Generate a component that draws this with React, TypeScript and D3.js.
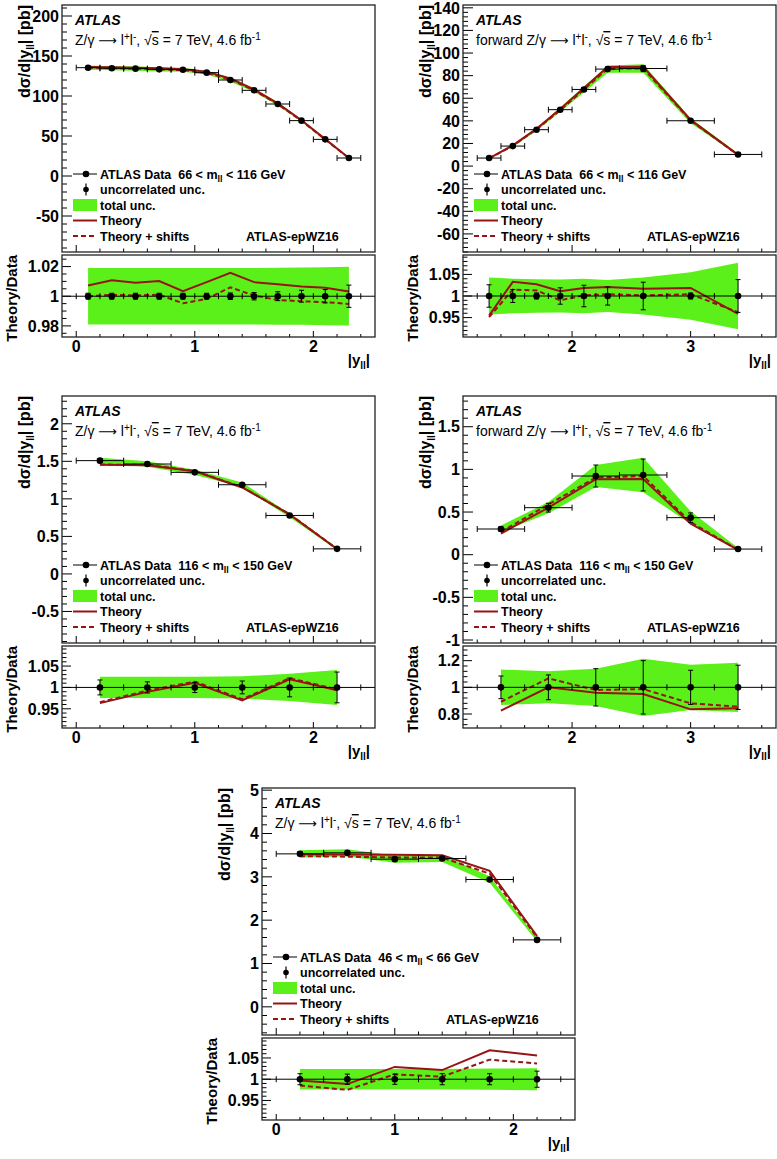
import React from "react";
import * as d3 from "d3";

// ---- data ----

// Z/γ* 66 < mll < 116 GeV, central
const zPeakCenEdges = [0, 0.2, 0.4, 0.6, 0.8, 1.0, 1.2, 1.4, 1.6, 1.8, 2.0, 2.2, 2.4];
const zPeakCenData = [135.4, 134.6, 134.2, 133.3, 132.9, 129.2, 120.0, 107.1, 90.0, 69.2, 45.8, 22.5];
const zPeakCenUncor = [0.002, 0.002, 0.002, 0.002, 0.002, 0.002, 0.0022, 0.0025, 0.003, 0.004, 0.0045, 0.0075];
const zPeakCenTotal = [0.019, 0.019, 0.019, 0.019, 0.019, 0.019, 0.019, 0.0191, 0.0192, 0.0193, 0.0195, 0.0198];
const zPeakCenTheory = [1.0073, 1.0107, 1.0091, 1.0102, 1.0034, 1.0095, 1.0157, 1.0095, 1.008, 1.0066, 1.0057, 1.0032];
const zPeakCenShifts = [1.0, 1.001, 1.0005, 1.001, 0.9952, 0.9982, 1.006, 1.0005, 0.9975, 0.9966, 0.996, 0.9948];

// Z/γ* 66 < mll < 116 GeV, forward
const zPeakFwdEdges = [1.2, 1.4, 1.6, 1.8, 2.0, 2.2, 2.4, 2.8, 3.2, 3.6];
const zPeakFwdData = [7.1, 17.7, 32.2, 49.9, 67.8, 85.8, 86.3, 40.1, 10.3];
const zPeakFwdUncor = [0.026, 0.015, 0.007, 0.019, 0.025, 0.021, 0.032, 0.007, 0.038];
const zPeakFwdTotal = [0.043, 0.04, 0.039, 0.038, 0.04, 0.037, 0.043, 0.055, 0.077];
const zPeakFwdTheory = [0.9547, 1.0328, 1.0273, 1.011, 1.0187, 1.021, 1.017, 1.0187, 0.9586];
const zPeakFwdShifts = [0.951, 1.0148, 1.013, 0.99, 1.0016, 1.004, 1.0016, 1.004, 0.9625];

// 116 < mll < 150 GeV, central
const highCenEdges = [0, 0.4, 0.8, 1.2, 1.6, 2.0, 2.4];
const highCenData = [1.509, 1.464, 1.353, 1.188, 0.779, 0.334];
const highCenUncor = [0.0175, 0.013, 0.012, 0.015, 0.022, 0.036];
const highCenTotal = [0.025, 0.025, 0.025, 0.026, 0.032, 0.041];
const highCenTheory = [0.9633, 0.9896, 1.011, 0.9698, 1.019, 0.9935];
const highCenShifts = [0.9655, 0.9925, 1.0135, 0.9725, 1.0215, 0.9955];

// 116 < mll < 150 GeV, forward
const highFwdEdges = [1.2, 1.6, 2.0, 2.4, 2.8, 3.2, 3.6];
const highFwdData = [0.301, 0.551, 0.922, 0.934, 0.434, 0.066];
const highFwdUncor = [0.085, 0.093, 0.14, 0.2, 0.128, 0.166];
const highFwdTotal = [0.133, 0.12, 0.14, 0.215, 0.17, 0.185];
const highFwdTheory = [0.825, 1.0, 0.96, 0.95, 0.835, 0.843];
const highFwdShifts = [0.892, 1.067, 0.98, 0.987, 0.88, 0.855];

// 46 < mll < 66 GeV, central
const lowCenEdges = [0, 0.4, 0.8, 1.2, 1.6, 2.0, 2.4];
const lowCenData = [3.53, 3.554, 3.408, 3.423, 2.938, 1.545];
const lowCenUncor = [0.013, 0.012, 0.012, 0.013, 0.013, 0.019];
const lowCenTotal = [0.024, 0.024, 0.024, 0.024, 0.025, 0.026];
const lowCenTheory = [0.997, 0.9885, 1.029, 1.0215, 1.068, 1.056];
const lowCenShifts = [0.985, 0.975, 1.0115, 1.006, 1.046, 1.037];

// tick labels
const xTicksCentral = [0, 1, 2];
const xTicksForward = [2, 3];
const zPeakCenYTicks = [-50, 0, 50, 100, 150, 200];
const zPeakFwdYTicks = [-60, -40, -20, 0, 20, 40, 60, 80, 100, 120, 140];
const highCenYTicks = [-0.5, 0, 0.5, 1, 1.5, 2];
const highFwdYTicks = [-1, -0.5, 0, 0.5, 1, 1.5];
const lowCenYTicks = [0, 1, 2, 3, 4, 5];
const ratioTicksFine = [0.98, 1, 1.02];
const ratioTicksMid = [0.95, 1, 1.05];
const ratioTicksWide = [0.8, 1, 1.2];

const FONT = "'Liberation Sans', Arial, Helvetica, sans-serif";
const GREEN = "#5cf01a";
const RED = "#961414";

interface PanelCfg {
  x0: number;
  y0: number;
  forward: boolean;
  mass: [string, string];
  edges: number[];
  data: number[];
  uncor: number[];
  total: number[];
  theory: number[];
  shifts: number[];
  xDomain: [number, number];
  xMajor: number[];
  yDomain: [number, number];
  yMajor: number[];
  yMinor: number;
  rDomain: [number, number];
  rMajor: number[];
  rMinor: number;
}

const panels: PanelCfg[] = [
  {
    x0: 62, y0: 5, forward: false, mass: ["66", "116"],
    edges: zPeakCenEdges, data: zPeakCenData, uncor: zPeakCenUncor, total: zPeakCenTotal,
    theory: zPeakCenTheory, shifts: zPeakCenShifts,
    xDomain: [-0.12, 2.52], xMajor: xTicksCentral,
    yDomain: [-95, 213.75], yMajor: zPeakCenYTicks, yMinor: 10,
    rDomain: [0.9725, 1.0278], rMajor: ratioTicksFine, rMinor: 0.005,
  },
  {
    x0: 463, y0: 5, forward: true, mass: ["66", "116"],
    edges: zPeakFwdEdges, data: zPeakFwdData, uncor: zPeakFwdUncor, total: zPeakFwdTotal,
    theory: zPeakFwdTheory, shifts: zPeakFwdShifts,
    xDomain: [1.08, 3.72], xMajor: xTicksForward,
    yDomain: [-76, 142.5], yMajor: zPeakFwdYTicks, yMinor: 4,
    rDomain: [0.905, 1.095], rMajor: ratioTicksMid, rMinor: 0.01,
  },
  {
    x0: 62, y0: 396, forward: false, mass: ["116", "150"],
    edges: highCenEdges, data: highCenData, uncor: highCenUncor, total: highCenTotal,
    theory: highCenTheory, shifts: highCenShifts,
    xDomain: [-0.12, 2.52], xMajor: xTicksCentral,
    yDomain: [-0.92, 2.37], yMajor: highCenYTicks, yMinor: 0.1,
    rDomain: [0.905, 1.097], rMajor: ratioTicksMid, rMinor: 0.01,
  },
  {
    x0: 463, y0: 396, forward: true, mass: ["116", "150"],
    edges: highFwdEdges, data: highFwdData, uncor: highFwdUncor, total: highFwdTotal,
    theory: highFwdTheory, shifts: highFwdShifts,
    xDomain: [1.08, 3.72], xMajor: xTicksForward,
    yDomain: [-1.035, 1.86], yMajor: highFwdYTicks, yMinor: 0.1,
    rDomain: [0.695, 1.31], rMajor: ratioTicksWide, rMinor: 0.04,
  },
  {
    x0: 262, y0: 788, forward: false, mass: ["46", "66"],
    edges: lowCenEdges, data: lowCenData, uncor: lowCenUncor, total: lowCenTotal,
    theory: lowCenTheory, shifts: lowCenShifts,
    xDomain: [-0.12, 2.52], xMajor: xTicksCentral,
    yDomain: [-0.65, 5.05], yMajor: lowCenYTicks, yMinor: 0.2,
    rDomain: [0.904, 1.097], rMajor: ratioTicksMid, rMinor: 0.01,
  },
];

function stepTicks(domain: [number, number], step: number) {
  const out: number[] = [];
  const k0 = Math.ceil(domain[0] / step - 1e-9);
  const k1 = Math.floor(domain[1] / step + 1e-9);
  for (let k = k0; k <= k1; k++) out.push(+(k * step).toFixed(6));
  return out;
}

const isIn = (list: number[], v: number, step: number) =>
  list.some((m) => Math.abs(m - v) < step / 10);

const Panel: React.FC<{ p: PanelCfg }> = ({ p }) => {
  const W = 313, MH = 247, RH = 82, GAP = 3;
  const { x0, y0 } = p;
  const rTop = y0 + MH + GAP;
  const rBot = rTop + RH;

  const x = d3.scaleLinear().domain(p.xDomain).range([x0, x0 + W]);
  const yM = d3.scaleLinear().domain(p.yDomain).range([y0 + MH, y0]);
  const yR = d3.scaleLinear().domain(p.rDomain).range([rBot, rTop]);

  const pts = p.data.map((v, i) => ({
    lo: p.edges[i],
    hi: p.edges[i + 1],
    c: (p.edges[i] + p.edges[i + 1]) / 2,
    v,
    u: p.uncor[i],
    t: p.total[i],
    th: p.theory[i],
    sh: p.shifts[i],
  }));
  type Pt = (typeof pts)[number];

  const mainBand = d3.area<Pt>().x((d) => x(d.c)).y0((d) => yM(d.v * (1 - d.t))).y1((d) => yM(d.v * (1 + d.t)))(pts) || "";
  const mainTh = d3.line<Pt>().x((d) => x(d.c)).y((d) => yM(d.v * d.th))(pts) || "";
  const mainSh = d3.line<Pt>().x((d) => x(d.c)).y((d) => yM(d.v * d.sh))(pts) || "";
  const rBand = d3.area<Pt>().x((d) => x(d.c)).y0((d) => yR(1 - d.t)).y1((d) => yR(1 + d.t))(pts) || "";
  const rTh = d3.line<Pt>().x((d) => x(d.c)).y((d) => yR(d.th))(pts) || "";
  const rSh = d3.line<Pt>().x((d) => x(d.c)).y((d) => yR(d.sh))(pts) || "";

  const xTicks = stepTicks(p.xDomain, 0.2);
  const yTicks = stepTicks(p.yDomain, p.yMinor);
  const rTicks = stepTicks(p.rDomain, p.rMinor);

  const lgY = [169, 184.5, 200, 215.5, 231].map((o) => y0 + o);
  const lx0 = x0 + 11, lx1 = x0 + 35, lxc = x0 + 24, ltx = x0 + 38;

  return (
    <g>
      {/* ---------- main pad ---------- */}
      <path d={mainBand} fill={GREEN} />
      <path d={mainTh} fill="none" stroke={RED} strokeWidth={2} />
      <path d={mainSh} fill="none" stroke={RED} strokeWidth={2} strokeDasharray="5,3" />
      {pts.map((d, i) => (
        <g key={i} stroke="#000" strokeWidth={1}>
          <line x1={x(d.lo)} x2={x(d.hi)} y1={yM(d.v)} y2={yM(d.v)} />
          <line x1={x(d.lo)} x2={x(d.lo)} y1={yM(d.v) - 3} y2={yM(d.v) + 3} />
          <line x1={x(d.hi)} x2={x(d.hi)} y1={yM(d.v) - 3} y2={yM(d.v) + 3} />
          <line x1={x(d.c)} x2={x(d.c)} y1={yM(d.v * (1 - d.u))} y2={yM(d.v * (1 + d.u))} />
          <line x1={x(d.c) - 2.5} x2={x(d.c) + 2.5} y1={yM(d.v * (1 - d.u))} y2={yM(d.v * (1 - d.u))} />
          <line x1={x(d.c) - 2.5} x2={x(d.c) + 2.5} y1={yM(d.v * (1 + d.u))} y2={yM(d.v * (1 + d.u))} />
          <circle cx={x(d.c)} cy={yM(d.v)} r={3.3} fill="#000" stroke="none" />
        </g>
      ))}

      {/* y ticks main */}
      {yTicks.map((v) => {
        const major = isIn(p.yMajor, v, p.yMinor);
        return (
          <line key={"ym" + v} x1={x0} x2={x0 + (major ? 10 : 5)} y1={yM(v)} y2={yM(v)} stroke="#000" strokeWidth={1} />
        );
      })}
      {p.yMajor.map((v) => (
        <text key={"yl" + v} x={x0 - 3} y={yM(v)} dy="0.36em" textAnchor="end" fontSize={16} fontWeight="bold">
          {String(v)}
        </text>
      ))}
      {/* x ticks main */}
      {xTicks.map((v) => {
        const major = isIn(p.xMajor, v, 0.2);
        return (
          <line key={"xm" + v} x1={x(v)} x2={x(v)} y1={y0 + MH} y2={y0 + MH - (major ? 7 : 3.5)} stroke="#000" strokeWidth={1} />
        );
      })}
      <rect x={x0} y={y0} width={W} height={MH} fill="none" stroke="#222" strokeWidth={1.3} />

      {/* labels */}
      <text x={x0 + 13} y={y0 + 20} fontSize={14} fontWeight="bold" fontStyle="italic">ATLAS</text>
      <text x={x0 + 13} y={y0 + 40} fontSize={14}>
        {p.forward ? "forward Z/γ " : "Z/γ "}
        <tspan fontFamily="'DejaVu Sans', sans-serif" fontSize={13}>⟶</tspan>
        <tspan>{" l"}</tspan>
        <tspan dy={-5} fontSize={10}>+</tspan>
        <tspan dy={5}>l</tspan>
        <tspan dy={-5} fontSize={10}>-</tspan>
        <tspan dy={5}>{", √"}</tspan>
        <tspan textDecoration="overline">s</tspan>
        <tspan>{" = 7 TeV, 4.6 fb"}</tspan>
        <tspan dy={-5} fontSize={10}>-1</tspan>
      </text>

      <text transform={`translate(${x0 - 32},${y0}) rotate(-90)`} textAnchor="end" fontSize={16} fontWeight="bold">
        dσ/d|y<tspan dy={4} fontSize={10}>ll</tspan>
        <tspan dy={-4}>| [pb]</tspan>
      </text>

      {/* legend */}
      <g fontSize={12.5} fontWeight="bold">
        <line x1={lx0} x2={lx1} y1={lgY[0]} y2={lgY[0]} stroke="#000" strokeWidth={1} />
        <circle cx={lxc} cy={lgY[0]} r={3.3} fill="#000" />
        <text x={ltx} y={lgY[0] + 4.5}>
          {`ATLAS Data\u00a0\u00a0${p.mass[0]} < m`}
          <tspan dy={3} fontSize={9}>ll</tspan>
          <tspan dy={-3}>{` < ${p.mass[1]} GeV`}</tspan>
        </text>

        <line x1={lxc} x2={lxc} y1={lgY[1] - 6} y2={lgY[1] + 6} stroke="#000" strokeWidth={1.2} />
        <circle cx={lxc} cy={lgY[1]} r={2.8} fill="#000" />
        <text x={ltx} y={lgY[1] + 4.5}>uncorrelated unc.</text>

        <rect x={lx0} y={lgY[2] - 6} width={lx1 - lx0} height={12} fill={GREEN} />
        <text x={ltx} y={lgY[2] + 4.5}>total unc.</text>

        <line x1={lx0} x2={lx1} y1={lgY[3]} y2={lgY[3]} stroke={RED} strokeWidth={2} />
        <text x={ltx} y={lgY[3] + 4.5}>Theory</text>

        <line x1={lx0} x2={lx1} y1={lgY[4]} y2={lgY[4]} stroke={RED} strokeWidth={2} strokeDasharray="5,3" />
        <text x={ltx} y={lgY[4] + 4.5}>Theory + shifts</text>
        <text x={x0 + 184} y={lgY[4] + 4.5}>ATLAS-epWZ16</text>
      </g>

      {/* ---------- ratio pad ---------- */}
      <path d={rBand} fill={GREEN} />
      <path d={rTh} fill="none" stroke={RED} strokeWidth={2} />
      <path d={rSh} fill="none" stroke={RED} strokeWidth={2} strokeDasharray="5,3" />
      <line x1={x0} x2={x0 + W} y1={yR(1)} y2={yR(1)} stroke="#000" strokeWidth={1} />
      {xTicks.map((v) => (
        <line key={"one" + v} x1={x(v)} x2={x(v)} y1={yR(1) - 3} y2={yR(1) + 3} stroke="#000" strokeWidth={1} />
      ))}
      {pts.map((d, i) => (
        <g key={"r" + i} stroke="#000" strokeWidth={1}>
          <line x1={x(d.c)} x2={x(d.c)} y1={yR(1 - d.u)} y2={yR(1 + d.u)} />
          <line x1={x(d.c) - 2.5} x2={x(d.c) + 2.5} y1={yR(1 - d.u)} y2={yR(1 - d.u)} />
          <line x1={x(d.c) - 2.5} x2={x(d.c) + 2.5} y1={yR(1 + d.u)} y2={yR(1 + d.u)} />
          <circle cx={x(d.c)} cy={yR(1)} r={3.3} fill="#000" stroke="none" />
        </g>
      ))}
      {rTicks.map((v) => {
        const major = isIn(p.rMajor, v, p.rMinor);
        return (
          <line key={"rt" + v} x1={x0} x2={x0 + (major ? 9 : 4.5)} y1={yR(v)} y2={yR(v)} stroke="#000" strokeWidth={1} />
        );
      })}
      {p.rMajor.map((v) => (
        <text key={"rl" + v} x={x0 - 3} y={yR(v)} dy="0.36em" textAnchor="end" fontSize={16} fontWeight="bold">
          {String(v)}
        </text>
      ))}
      {xTicks.map((v) => {
        const major = isIn(p.xMajor, v, 0.2);
        return (
          <line key={"xr" + v} x1={x(v)} x2={x(v)} y1={rBot} y2={rBot - (major ? 6 : 3)} stroke="#000" strokeWidth={1} />
        );
      })}
      {p.xMajor.map((v) => (
        <text key={"xl" + v} x={x(v)} y={rBot + 15} textAnchor="middle" fontSize={16} fontWeight="bold">
          {String(v)}
        </text>
      ))}
      <rect x={x0} y={rTop} width={W} height={RH} fill="none" stroke="#222" strokeWidth={1.3} />

      <text transform={`translate(${x0 - 45},${rTop}) rotate(-90)`} textAnchor="end" fontSize={15} fontWeight="bold">
        Theory/Data
      </text>
      <text x={x0 + W - 5} y={rBot + 28} textAnchor="end" fontSize={15} fontWeight="bold">
        |y<tspan dy={4} fontSize={10}>ll</tspan>
        <tspan dy={-4}>|</tspan>
      </text>
    </g>
  );
};

export default function App() {
  return (
    <svg
      width={777}
      height={1159}
      style={{ position: "absolute", left: 0, top: 0, background: "#fff" }}
      fontFamily={FONT}
    >
      <rect width={777} height={1159} fill="#fff" />
      {panels.map((p, i) => (
        <Panel key={i} p={p} />
      ))}
    </svg>
  );
}
